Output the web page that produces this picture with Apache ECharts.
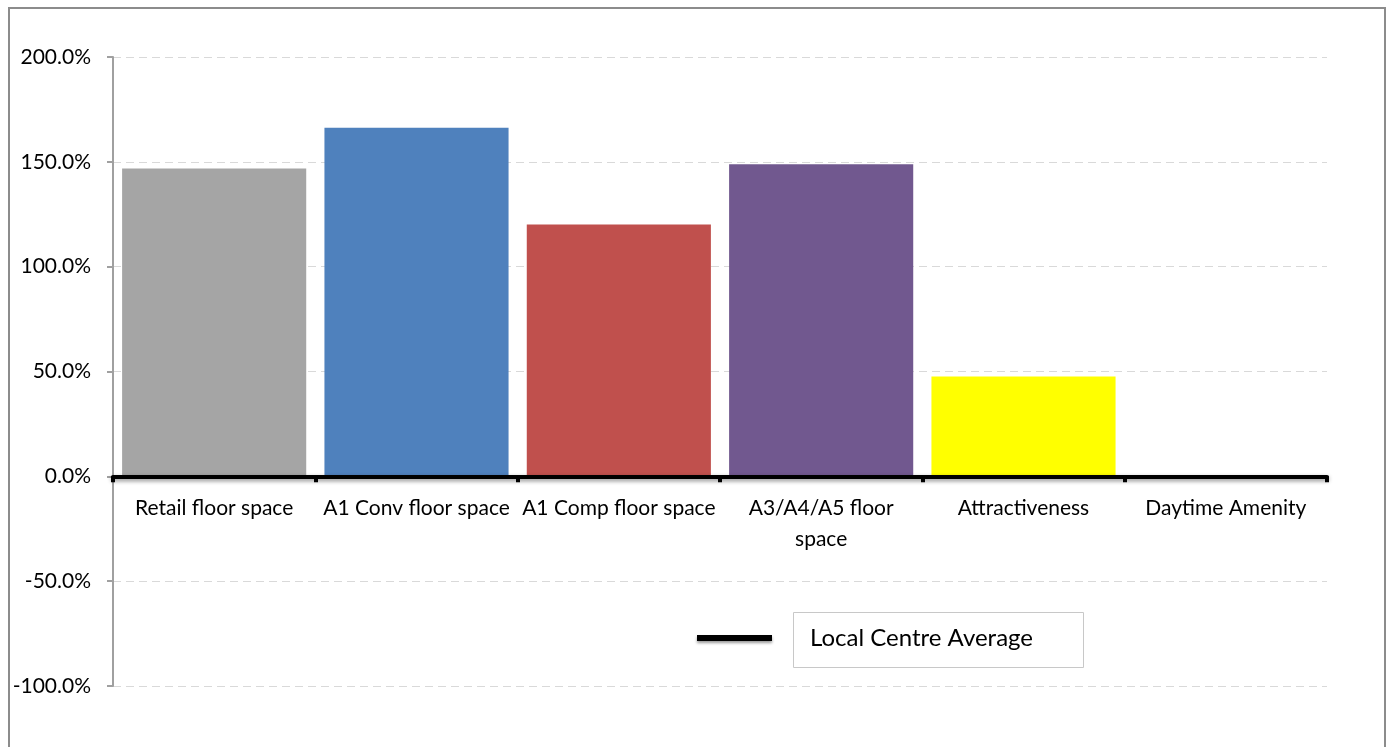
<!DOCTYPE html>
<html>
<head>
<meta charset="utf-8">
<script src="https://cdn.jsdelivr.net/npm/echarts@6/dist/echarts.min.js"></script>
<style>
  html, body { margin: 0; padding: 0; background: #fff; }
  #chart { width: 1390px; height: 747px; }
</style>
</head>
<body>
<div id="chart"></div>
<script>
// Category names along the x axis
const categories = [
  'Retail floor space',
  'A1 Conv floor space',
  'A1 Comp floor space',
  'A3/A4/A5 floor\nspace',
  'Attractiveness',
  'Daytime Amenity'
];
// Performance relative to the local centre average (%)
const performance = [146.8, 166.3, 120.1, 148.9, 47.6, 0];
// Local centre average baseline (%)
const centreAverage = [0, 0, 0, 0, 0, 0];
// Y axis range and step (%)
const yMin = -100;
const yMax = 200;
const yStep = 50;

const barColors = ['#a5a5a5', '#4f81bd', '#c0504d', '#71588f', '#ffff00', '#9bbb59'];
const FONT = 'Lato, "Liberation Sans", sans-serif';

const chart = echarts.init(document.getElementById('chart'), null, { renderer: 'canvas' });

chart.setOption({
  backgroundColor: '#ffffff',
  animation: false,
  textStyle: { fontFamily: FONT, color: '#000' },
  grid: { left: 113, right: 63, top: 57, bottom: 61, containLabel: false, outerBoundsMode: 'none' },
  xAxis: {
    type: 'category',
    data: categories,
    position: 'bottom',
    offset: 0,
    z: 5,
    axisLine: {
      onZero: false,
      lineStyle: {
        color: '#000', width: 4,
        shadowColor: 'rgba(0,0,0,0.45)', shadowBlur: 4, shadowOffsetY: 2
      }
    },
    axisTick: {
      show: true, length: 6,
      lineStyle: { color: '#000', width: 4 }
    },
    axisLabel: {
      fontFamily: FONT, fontSize: 21, color: '#000',
      margin: 16, lineHeight: 31, interval: 0
    }
  },
  yAxis: {
    type: 'value',
    min: yMin, max: yMax, interval: yStep,
    axisLine: { show: true, lineStyle: { color: '#a0a0a0', width: 2 } },
    axisTick: { show: true, length: 6, lineStyle: { color: '#a0a0a0', width: 2 } },
    axisLabel: {
      fontFamily: FONT, fontSize: 21, color: '#000', margin: 22,
      formatter: v => v.toFixed(1) + '%'
    },
    splitLine: { show: true, lineStyle: { color: '#d9d9d9', type: [8, 5], width: 1 } }
  },
  legend: {
    data: ['Local Centre Average'],
    left: 697, top: 626, padding: 0,
    icon: 'rect', itemWidth: 75, itemHeight: 6,
    itemStyle: { color: '#000', shadowColor: 'rgba(0,0,0,0.4)', shadowBlur: 3, shadowOffsetY: 2 },
    textStyle: {
      fontFamily: FONT, fontSize: 24, color: '#000',
      lineHeight: 22, padding: [0, 0, 0, 33]
    },
    selectedMode: false
  },
  graphic: [
    // outer frame
    {
      type: 'rect', silent: true, z: -1,
      shape: { x: 9, y: 8, width: 1376, height: 760 },
      style: { fill: 'none', stroke: '#8c8c8c', lineWidth: 2 }
    },
    // legend text box
    {
      type: 'rect', silent: true,
      shape: { x: 793.5, y: 612.5, width: 290, height: 55 },
      style: { fill: 'none', stroke: '#c8c8c8', lineWidth: 1 }
    }
  ],
  series: [
    {
      name: 'Performance',
      type: 'bar',
      barCategoryGap: '9%',
      data: performance.map((v, i) => ({ value: v, itemStyle: { color: barColors[i] } })),
      z: 2
    },
    {
      name: 'Local Centre Average',
      type: 'line',
      data: centreAverage,
      showSymbol: false,
      lineStyle: { color: '#000', width: 2 },
      itemStyle: { color: '#000' },
      z: 3
    }
  ]
});

// Lift the category axis (line, ticks and labels) up to the 0% level of the value axis
const yZero = chart.convertToPixel({ yAxisIndex: 0 }, 0);
const yBottom = chart.convertToPixel({ yAxisIndex: 0 }, yMin);
chart.setOption({ xAxis: { offset: -(yBottom - yZero) } });
</script>
</body>
</html>
